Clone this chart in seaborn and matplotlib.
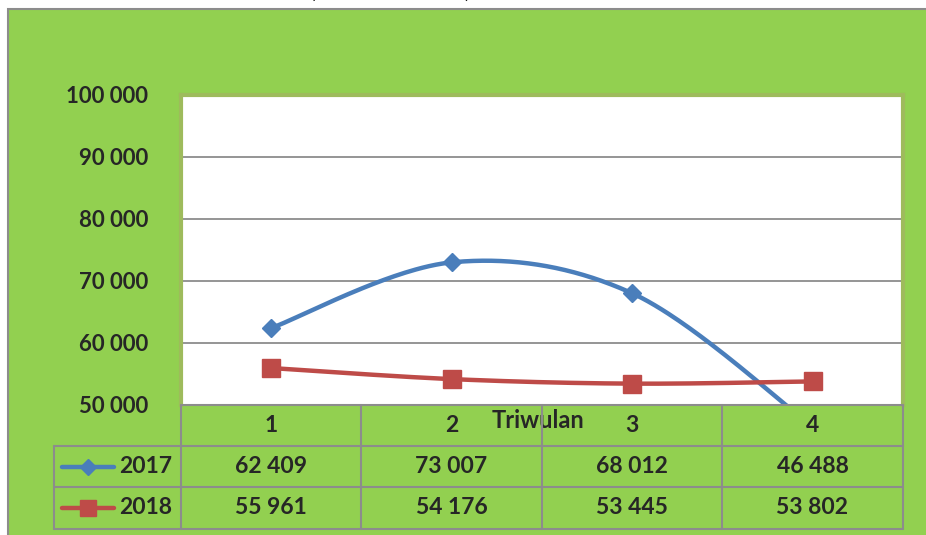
import numpy as np
import matplotlib
matplotlib.use("Agg")
import matplotlib.pyplot as plt
from matplotlib.patches import Rectangle
from matplotlib.lines import Line2D
import seaborn as sns

# Data
quarters = ["1", "2", "3", "4"]
years = ["2017", "2018"]
values_2017 = [62409, 73007, 68012, 46488]
values_2018 = [55961, 54176, 53445, 53802]
y_ticks = [50000, 60000, 70000, 80000, 90000, 100000]
x_title = "Triwulan"

W, H = 926, 535
GREEN = "#92D050"
OLIVE = "#9EBB5C"
GRID = "#8C8C8C"
BLUE = "#4A7EBB"
RED = "#BE4B48"
FONT = ["Lato", "DejaVu Sans"]


def fx(px):
    return px / W


def fy(py):
    return 1 - py / H


def smooth(ys, n=60):
    """Excel-like smoothed line (Bezier through points, 1/6 tangents)."""
    pts = np.column_stack([np.arange(len(ys), dtype=float), np.asarray(ys, float)])
    ext = np.vstack([pts[0], pts, pts[-1]])
    xs_out, ys_out = [], []
    t = np.linspace(0, 1, n)
    for i in range(len(pts) - 1):
        p0, p1, p2, p3 = ext[i], ext[i + 1], ext[i + 2], ext[i + 3]
        c1 = p1 + (p2 - p0) / 6
        c2 = p2 - (p3 - p1) / 6
        b = ((1 - t) ** 3)[:, None] * p1 + (3 * (1 - t) ** 2 * t)[:, None] * c1 \
            + (3 * (1 - t) * t ** 2)[:, None] * c2 + (t ** 3)[:, None] * p2
        xs_out.extend(b[:, 0])
        ys_out.extend(b[:, 1])
    return np.array(xs_out), np.array(ys_out)


def fmt(v):
    return f"{v:,}".replace(",", " ")


sns.set_style("white")
plt.rcParams["font.family"] = FONT

fig = plt.figure(figsize=(W / 100, H / 100), dpi=100, facecolor="white")

# Green chart area with gray frame (behind everything)
fig.patches.append(Rectangle((fx(8), -0.01), 1 - fx(8) + 0.01, fy(9) + 0.01, transform=fig.transFigure,
                             facecolor=GREEN, edgecolor="#8C8C8C", linewidth=1.5, zorder=-5))

# Clipped title fragments at the very top
fig.text(fx(313), fy(-2), "(", ha="center", va="baseline", fontsize=15, color="black")
fig.text(fx(467), fy(-2), ")", ha="center", va="baseline", fontsize=15, color="black")

# Plot area
ax = fig.add_axes([fx(181), fy(405), fx(903) - fx(181), (405 - 95) / H])
ax.set_facecolor("white")

for vals, color, marker, ms in [(values_2017, BLUE, "D", 9.5), (values_2018, RED, "s", 13)]:
    sx, sy = smooth(vals)
    sns.lineplot(x=sx, y=sy, sort=False, estimator=None, color=color, linewidth=3.2, ax=ax, zorder=3)
    ax.plot(range(len(vals)), vals, linestyle="none", marker=marker, markersize=ms,
            color=color, markeredgecolor=color, zorder=4)

ax.set_xlim(-0.5, len(quarters) - 0.5)
ax.set_ylim(y_ticks[0], y_ticks[-1])
ax.set_yticks(y_ticks)
ax.set_yticklabels([fmt(v) for v in y_ticks], fontsize=16, fontweight="bold")
ax.set_xticks([])
ax.tick_params(axis="y", length=0, pad=23.5)
for v in y_ticks[1:-1]:
    ax.axhline(v, color=GRID, linewidth=1.3, zorder=1)
for side in ["top", "left", "right"]:
    ax.spines[side].set_color(OLIVE)
    ax.spines[side].set_linewidth(3)
ax.spines["bottom"].set_visible(False)

# Data table below the plot
tab = fig.add_axes([0, 0, 1, 1], facecolor="none")
tab.set_xlim(0, W)
tab.set_ylim(H, 0)
tab.axis("off")

col_edges = [181, 361, 542, 722, 903]
row_edges = [405, 446, 487, 529]
line_kw = dict(color="#8C8C8C", linewidth=1.5, zorder=3)
tab.plot([181, 903], [405, 405], **line_kw)
for yy in row_edges[1:]:
    tab.plot([54, 903], [yy, yy], **line_kw)
for xx in col_edges:
    tab.plot([xx, xx], [405, 529], **line_kw)
tab.plot([54, 54], [446, 529], **line_kw)

centers = [(a + b) / 2 for a, b in zip(col_edges[:-1], col_edges[1:])]
for cx, q in zip(centers, quarters):
    tab.text(cx, 426, q, ha="center", va="center", fontsize=16.5, fontweight="bold", zorder=2)
tab.text(538, 421, x_title, ha="center", va="center", fontsize=17, fontweight="bold", zorder=2)

rows = [(years[0], values_2017, BLUE, "D", 8), (years[1], values_2018, RED, "s", 12)]
for (label, vals, color, marker, ms), top, bot in zip(rows, row_edges[1:-1], row_edges[2:]):
    cy = (top + bot) / 2
    tab.add_line(Line2D([62, 114], [cy, cy], color=color, linewidth=3.2, solid_capstyle="round"))
    tab.plot([88], [cy], marker=marker, markersize=ms, color=color, markeredgecolor=color)
    tab.text(119, cy, label, ha="left", va="center", fontsize=16.5, fontweight="bold", zorder=2)
    for cx, v in zip(centers, vals):
        tab.text(cx, cy, fmt(v), ha="center", va="center", fontsize=16.5, fontweight="bold", zorder=2)

fig.savefig("out.png", dpi=100, facecolor=fig.get_facecolor())
